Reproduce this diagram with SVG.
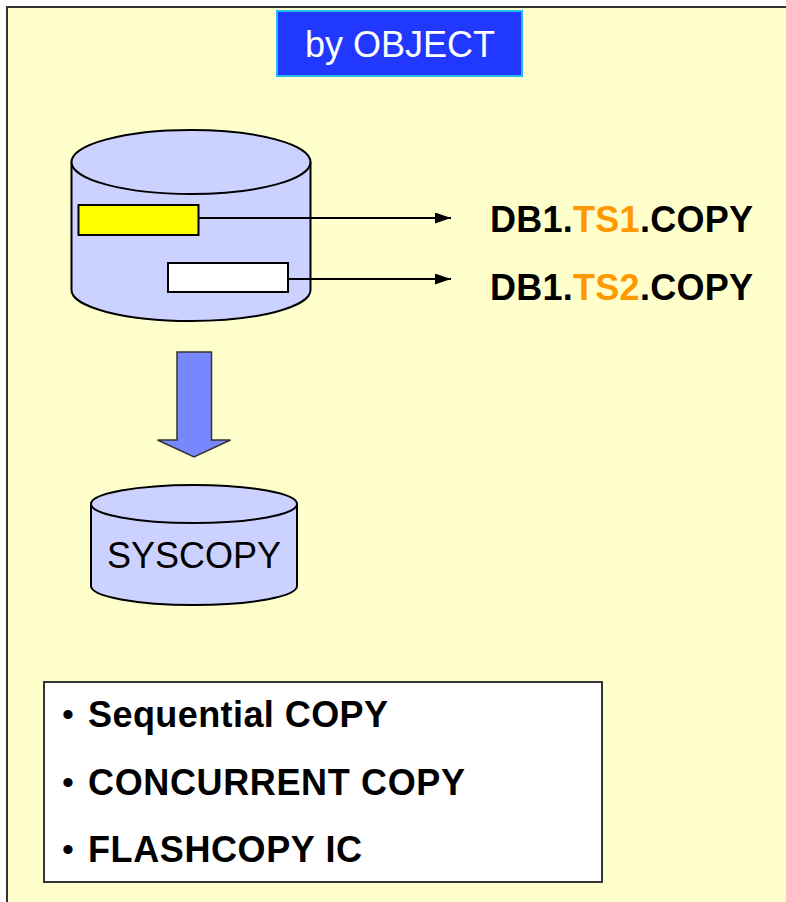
<svg xmlns="http://www.w3.org/2000/svg" width="786" height="902" viewBox="0 0 786 902">
<defs>
<style>
.bold{font-family:"Liberation Sans",Arial,sans-serif;font-weight:bold;font-size:36px;fill:#000}
.reg{font-family:"Liberation Sans",Arial,sans-serif;font-size:36px}
.bul{font-family:"Liberation Sans",Arial,sans-serif;font-size:34px;fill:#000}
.cyl{fill:#CCD2FF;stroke:#000;stroke-width:2}
.conn{stroke:#000;stroke-width:2;fill:none}
.or{fill:#FF9900}
</style>
<marker id="ah" viewBox="0 0 16 11" refX="16" refY="5.5" markerWidth="16" markerHeight="11" markerUnits="userSpaceOnUse" orient="auto">
<path d="M0,0 L16,5.5 L0,11 Z" fill="#000"/>
</marker>
</defs>
<rect x="0" y="0" width="786" height="902" fill="#FFFFFF"/>
<rect id="panel" x="7" y="7" width="800" height="920" fill="#FFFFCC" stroke="#333" stroke-width="2"/>
<g id="title">
<rect x="277" y="11" width="245" height="65" fill="#2038FF" stroke="#22BBEE" stroke-width="2"/>
<text class="reg" x="400" y="57" text-anchor="middle" fill="#FFFFFF">by OBJECT</text>
</g>
<g id="database">
<path class="cyl" d="M71.5,162 L71.5,290 A119.5,31 0 0 0 310.5,290 L310.5,162"/>
<ellipse class="cyl" cx="191" cy="162" rx="119.5" ry="32"/>
<rect id="ts1" x="78.5" y="205" width="120" height="30" fill="#FFFF00" stroke="#000" stroke-width="2"/>
<rect id="ts2" x="168" y="263" width="120" height="29" fill="#FFFFFF" stroke="#000" stroke-width="2"/>
</g>
<g id="connectors">
<line class="conn" x1="198.5" y1="218" x2="451" y2="218" marker-end="url(#ah)"/>
<line class="conn" x1="288" y1="279" x2="451" y2="279" marker-end="url(#ah)"/>
<path d="M177,352 L211.5,352 L211.5,440 L230.5,440 L194,457 L157.5,440 L177,440 Z" fill="#7788FF" stroke="#333" stroke-width="1.5"/>
</g>
<g id="copy1">
<text class="bold" x="490" y="232" textLength="263">DB1.<tspan class="or">TS1</tspan>.COPY</text>
</g>
<g id="copy2">
<text class="bold" x="490" y="300" textLength="263">DB1.<tspan class="or">TS2</tspan>.COPY</text>
</g>
<g id="syscopy">
<path class="cyl" d="M91,504 L91,586 A103,19 0 0 0 297,586 L297,504"/>
<ellipse class="cyl" cx="194" cy="504" rx="103" ry="19"/>
<text class="reg" x="194" y="568" text-anchor="middle" fill="#000">SYSCOPY</text>
</g>
<g id="methods">
<rect x="44" y="682" width="558" height="200" fill="#FFFFFF" stroke="#333" stroke-width="2"/>
<text class="bul" x="62" y="726">•</text><text class="bold" x="88" y="727" textLength="300">Sequential COPY</text>
<text class="bul" x="62" y="794">•</text><text class="bold" x="88" y="795" textLength="377">CONCURRENT COPY</text>
<text class="bul" x="62" y="861">•</text><text class="bold" x="88" y="862" textLength="274">FLASHCOPY IC</text>
</g>
</svg>
